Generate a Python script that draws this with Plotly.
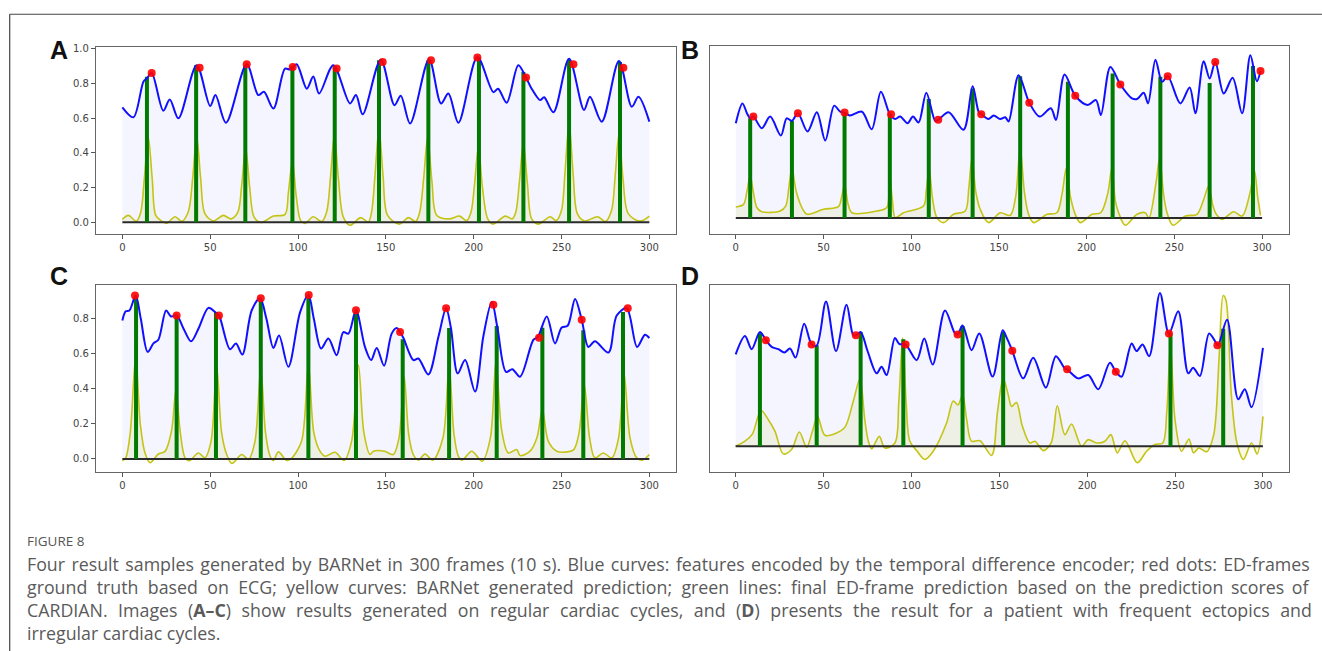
import plotly.graph_objects as go

# ---------------- Panel A ----------------
A_blue_x = [0, 6.3, 12, 14, 16.7, 23.3, 27, 31.9, 42.3, 50, 53, 59, 70.8, 77.4, 80.6, 86, 92.6, 95.5, 99.2,
            105, 108.7, 112, 120.1, 129.6, 133, 136.8, 147.1, 154.9, 158.5, 163.8, 174.6, 181.4, 185.6, 191.3,
            202.1, 211.2, 213.9, 218.8, 225.4, 229.8, 233, 237.8, 240.1, 245.4, 254.3, 262.8, 266.2, 272.9,
            282.7, 290, 293.8, 300]
A_blue_y = [0.662, 0.605, 0.81, 0.83, 0.86, 0.643, 0.708, 0.599, 0.905, 0.67, 0.733, 0.574, 0.91, 0.733, 0.752,
            0.656, 0.885, 0.88, 0.91, 0.77, 0.84, 0.742, 0.905, 0.685, 0.733, 0.622, 0.937, 0.675, 0.729, 0.57,
            0.94, 0.685, 0.742, 0.574, 0.952, 0.75, 0.77, 0.689, 0.905, 0.834, 0.77, 0.704, 0.72, 0.634, 0.942,
            0.647, 0.723, 0.58, 0.929, 0.666, 0.723, 0.58]
A_yel_x = [0, 3.4, 8, 10.5, 12.5, 14.8, 17, 19, 22, 25.3, 30, 33.8, 37.5, 40, 42.3, 44.6, 47, 51.8, 57.5, 62,
           65.8, 68, 70.2, 72.5, 75, 79, 86, 92.6, 94.5, 96.8, 99, 101.5, 104, 108.7, 113.5, 116.3, 118.5, 120.7,
           123, 125.8, 129.6, 135.7, 140, 141.9, 143.9, 146.1, 148.4, 151, 157.7, 162.8, 167, 169.3, 171.5,
           173.8, 176.2, 179, 186, 192, 196, 198.5, 200.5, 202.7, 205, 208, 211, 218, 222, 224, 226, 228.3,
           230.6, 233, 236.8, 243.5, 247, 250, 252, 254.3, 256.6, 259, 263, 270.6, 275, 278.5, 280.5, 282.7,
           285, 288, 294.6, 300]
A_yel_y = [0.017, 0.04, 0.006, 0.06, 0.25, 0.49, 0.25, 0.04, 0.01, -0.005, 0.032, 0.006, 0.06, 0.25, 0.494,
           0.25, 0.05, 0.008, 0.04, 0.02, 0.06, 0.22, 0.428, 0.2, 0.03, 0.0, 0.036, 0.046, 0.17, 0.351, 0.15,
           0.01, -0.006, 0.032, 0.005, 0.06, 0.26, 0.507, 0.25, 0.03, -0.017, 0.027, 0.002, 0.06, 0.28, 0.542,
           0.27, 0.04, -0.01, 0.027, 0.005, 0.06, 0.25, 0.49, 0.24, 0.04, 0.02, 0.036, 0.01, 0.06, 0.22, 0.437,
           0.2, 0.02, -0.01, 0.036, 0.02, 0.06, 0.23, 0.456, 0.22, 0.02, -0.01, 0.032, 0.01, 0.07, 0.29, 0.574,
           0.28, 0.05, 0.008, 0.032, 0.005, 0.07, 0.26, 0.509, 0.25, 0.05, 0.007, 0.036]
A_green_x = [14, 42, 70, 96.8, 120.9, 146.1, 174.2, 203, 228.3, 254.3, 283.3]
A_green_h = [0.838, 0.905, 0.905, 0.9, 0.9, 0.933, 0.933, 0.948, 0.866, 0.937, 0.924]
A_red_x = [16.7, 44, 70.8, 97, 122, 148.2, 175.7, 202.1, 229.8, 256.8, 285.2]
A_red_y = [0.86, 0.89, 0.91, 0.895, 0.886, 0.923, 0.933, 0.95, 0.834, 0.91, 0.89]

# ---------------- Panel B ----------------
B_blue_x = [0, 3.8, 6.5, 8.2, 10, 14.8, 19.6, 25.7, 29, 32, 35.4, 40.9, 46.2, 51, 56.1, 59.5, 62, 65, 71.9,
            77.5, 82.7, 88, 90.9, 93.7, 97.9, 101, 104.2, 108.6, 113.7, 115.4, 121.3, 129.8, 135, 138.4, 139.9,
            144, 147, 150.7, 153.6, 155.5, 161.2, 167.3, 173.2, 179.6, 182.5, 187.4, 193.5, 200.6, 205.3, 208.1,
            213.5, 219.2, 225.8, 228.7, 232.5, 235, 239.2, 243, 246.2, 253.4, 258.7, 262, 266.7, 270.1, 273.3,
            278.1, 283.2, 288.6, 293.3, 297, 299.1]
B_blue_y = [0.546, 0.66, 0.6, 0.574, 0.584, 0.517, 0.584, 0.475, 0.574, 0.559, 0.603, 0.498, 0.609, 0.446,
            0.647, 0.612, 0.607, 0.59, 0.612, 0.511, 0.727, 0.593, 0.57, 0.584, 0.546, 0.584, 0.55, 0.721, 0.559,
            0.565, 0.609, 0.508, 0.759, 0.612, 0.597, 0.57, 0.59, 0.57, 0.58, 0.556, 0.822, 0.664, 0.584, 0.632,
            0.565, 0.826, 0.704, 0.651, 0.679, 0.593, 0.87, 0.769, 0.689, 0.685, 0.721, 0.66, 0.912, 0.784, 0.817,
            0.66, 0.752, 0.603, 0.902, 0.803, 0.899, 0.717, 0.807, 0.603, 0.937, 0.788, 0.847]
B_yel_x = [0, 4.4, 6.3, 8.2, 10, 12, 14.8, 25.3, 28.5, 30.3, 32, 34.5, 38.2, 40.5, 50, 58.5, 60.3, 62, 64, 66.2,
           80.4, 86.1, 87.5, 89.3, 90.9, 95.6, 107, 108.6, 110.2, 112.3, 114.6, 118.4, 124.1, 130.8, 132.8, 134.6,
           136.8, 139.3, 144.1, 150.7, 156.4, 159.5, 162.1, 164.5, 166.9, 169.8, 177.4, 183, 186, 188.4, 190.8,
           193.5, 196.4, 203, 208, 212, 214.4, 216.3, 218.2, 222, 228.7, 233.4, 235.5, 239.5, 241.6, 243.8,
           245.8, 249.2, 256.3, 262.9, 266.5, 269.5, 272, 273.9, 277.2, 283.8, 288.6, 293, 295.6, 297.5, 299.1]
B_yel_y = [0.063, 0.078, 0.15, 0.244, 0.15, 0.06, 0.036, 0.04, 0.07, 0.18, 0.288, 0.15, 0.05, 0.021, 0.05,
           0.065, 0.12, 0.193, 0.08, 0.03, 0.04, 0.06, 0.259, 0.1, 0.002, 0.03, 0.069, 0.16, 0.279, 0.1, 0.002,
           -0.027, 0.021, 0.04, 0.17, 0.345, 0.15, 0.05, -0.027, 0.03, 0.015, 0.12, 0.403, 0.15, 0.021, -0.027,
           0.021, 0.03, 0.14, 0.288, 0.12, 0.021, -0.027, 0.021, 0.03, 0.14, 0.288, 0.1, 0.03, -0.042, 0.021,
           0.03, 0.0, 0.2, 0.345, 0.14, 0.03, -0.042, 0.011, 0.021, 0.1, 0.183, 0.07, 0.021, -0.008, 0.036,
           0.011, 0.14, 0.273, 0.12, 0.015]
B_green_x = [8.2, 32, 62, 87.8, 110, 135, 162.1, 189.3, 214.8, 242, 270.1, 294.8]
B_green_h = [0.574, 0.559, 0.603, 0.599, 0.685, 0.746, 0.817, 0.784, 0.832, 0.813, 0.778, 0.876]
B_red_x = [10, 35.4, 62, 88.5, 115.4, 139.9, 167.3, 193.5, 219.2, 246.2, 273.3, 299.1]
B_red_y = [0.584, 0.603, 0.607, 0.597, 0.565, 0.597, 0.664, 0.704, 0.769, 0.817, 0.899, 0.847]

# ---------------- Panel C ----------------
C_blue_x = [0, 1.9, 4, 7.6, 10.5, 14.4, 17.7, 20.5, 24.9, 27.7, 30.9, 35, 39.1, 43.3, 49, 52.8, 55, 61.3, 64.7,
            68.3, 73.6, 78.4, 82, 86, 89.2, 94.5, 101.2, 105.9, 109, 113.1, 117.3, 122, 125.8, 128.7, 133, 138.1,
            141.6, 144.8, 149, 153.3, 156.2, 158.1, 160, 165.7, 168.5, 174.2, 180, 184.3, 187, 190.9, 195.1,
            200.8, 205.5, 210.3, 213.5, 218.4, 222, 226.4, 234, 236.5, 241.6, 246.3, 250.1, 253.5, 257.7, 261.5,
            265.3, 269, 276.7, 281.4, 287.1, 293, 297.5, 300]
C_blue_y = [0.79, 0.842, 0.847, 0.932, 0.8, 0.611, 0.659, 0.68, 0.847, 0.813, 0.819, 0.74, 0.671, 0.743, 0.862,
            0.838, 0.819, 0.626, 0.659, 0.596, 0.847, 0.917, 0.8, 0.633, 0.705, 0.526, 0.838, 0.936, 0.8, 0.63,
            0.687, 0.592, 0.724, 0.715, 0.848, 0.639, 0.564, 0.633, 0.532, 0.715, 0.747, 0.724, 0.69, 0.564,
            0.573, 0.482, 0.7, 0.86, 0.75, 0.488, 0.564, 0.384, 0.7, 0.895, 0.75, 0.497, 0.512, 0.469, 0.68,
            0.695, 0.813, 0.659, 0.75, 0.76, 0.913, 0.794, 0.639, 0.671, 0.607, 0.818, 0.86, 0.639, 0.709, 0.69]
C_yel_x = [0, 1.9, 4.5, 7.6, 10.2, 12.9, 15.8, 20.5, 24.3, 28, 30.5, 33, 35.7, 38.2, 43.3, 47, 50.5, 53.7, 56.5,
           59.4, 62.3, 68, 71.8, 75.5, 78.8, 81.5, 84.1, 86, 88.8, 93.6, 96, 102, 105.9, 109, 112.5, 115.4, 121.1,
           126.2, 130.5, 134.4, 137.5, 141, 142.9, 149.2, 154.2, 157.5, 160.4, 163, 165.6, 168.5, 172.3, 176.7,
           182.5, 186, 188.8, 191.3, 193.5, 198.9, 204.9, 209.5, 212.7, 216, 219.7, 224.5, 226.4, 232.1, 236,
           239.1, 242.5, 247.3, 253.2, 257, 260, 263, 266, 269, 273.8, 278.6, 282.5, 285.6, 289, 292.8, 296, 300]
C_yel_y = [-0.01, 0.005, 0.15, 0.586, 0.2, 0.034, -0.022, 0.028, 0.043, 0.16, 0.39, 0.15, 0.006, -0.01, 0.034,
           0.006, 0.1, 0.529, 0.15, 0.025, -0.026, 0.025, -0.003, 0.1, 0.516, 0.15, 0.015, -0.01, 0.04, -0.009,
           0.0, 0.1, 0.539, 0.15, 0.044, 0.015, 0.038, -0.009, 0.1, 0.535, 0.15, 0.025, 0.044, 0.044, 0.025,
           0.12, 0.472, 0.14, 0.025, -0.007, 0.028, -0.007, 0.12, 0.529, 0.14, 0.015, -0.007, 0.044, -0.013,
           0.12, 0.558, 0.16, 0.034, 0.053, 0.019, 0.044, 0.12, 0.28, 0.1, 0.044, 0.04, 0.053, 0.15, 0.421, 0.12,
           0.006, 0.034, 0.006, 0.12, 0.488, 0.12, 0.006, -0.007, 0.025]
C_green_x = [7.8, 30.9, 53.3, 78.8, 105.9, 133, 159.6, 186, 213.1, 239.1, 262.4, 285]
C_green_h = [0.923, 0.81, 0.838, 0.904, 0.923, 0.838, 0.683, 0.747, 0.758, 0.749, 0.734, 0.838]
C_red_x = [7.2, 30.9, 55, 78.8, 106.1, 133, 158.1, 184.3, 211.2, 237.2, 261.5, 287.7]
C_red_y = [0.932, 0.819, 0.819, 0.917, 0.936, 0.848, 0.724, 0.86, 0.88, 0.692, 0.794, 0.86]

# ---------------- Panel D ----------------
D_blue_x = [0, 5.3, 9.1, 13.8, 17.2, 20.5, 24.3, 27.7, 30.9, 34.1, 39, 43.2, 46.1, 51.4, 57.1, 63.1, 66.9, 68.4,
            71.1, 75, 80.2, 83, 85.9, 90.6, 93, 96.7, 103, 107.3, 112.1, 119.1, 124.8, 126.3, 129.1, 134.2, 138.6,
            146.2, 151.9, 154, 157.4, 163.6, 169.3, 176.5, 182.2, 187.3, 188.6, 194.9, 200.6, 206.3, 212.9, 216.3,
            219.6, 225.3, 228.1, 231.5, 235.3, 241.4, 246.5, 251.8, 257.5, 260.3, 264.1, 269.4, 273.6, 274.5,
            279.6, 285.9, 289.7, 293.5, 300]
D_blue_y = [0.529, 0.635, 0.559, 0.658, 0.611, 0.572, 0.559, 0.54, 0.563, 0.511, 0.706, 0.588, 0.58, 0.834,
            0.548, 0.815, 0.639, 0.639, 0.658, 0.55, 0.42, 0.458, 0.41, 0.624, 0.59, 0.585, 0.496, 0.62, 0.471,
            0.782, 0.649, 0.643, 0.696, 0.553, 0.649, 0.401, 0.668, 0.63, 0.55, 0.391, 0.509, 0.338, 0.519, 0.448,
            0.443, 0.391, 0.41, 0.328, 0.481, 0.429, 0.401, 0.592, 0.548, 0.586, 0.519, 0.883, 0.649, 0.777, 0.42,
            0.452, 0.405, 0.649, 0.59, 0.58, 0.729, 0.271, 0.328, 0.225, 0.567]
D_yel_x = [0, 5.3, 9.5, 14.4, 18.6, 22.4, 27.1, 31.8, 36.2, 40.4, 43.5, 46.6, 50.8, 57.4, 62.2, 66.9, 70.7, 73.5,
           75.5, 77.4, 81.7, 84.9, 90.6, 92.8, 95, 97, 99.1, 103, 107.7, 112.4, 120, 123.8, 126.5, 129.1, 131.5,
           134.2, 139, 145.6, 149, 152.2, 155, 157, 159.8, 163, 167.4, 170.3, 175, 179.5, 183, 187.3, 191.1,
           196.8, 200.6, 205.4, 210.1, 213.5, 217.1, 221.5, 228.5, 233.8, 238.5, 243, 245.3, 247.4, 250, 253.7,
           257.9, 260.5, 263.5, 268, 272, 275, 277.4, 279, 282, 285.2, 288.9, 293.5, 296.7, 300]
D_yel_y = [0.0, 0.029, 0.07, 0.206, 0.153, 0.086, -0.044, -0.019, 0.082, -0.006, 0.08, 0.172, 0.063, 0.076,
           0.11, 0.258, 0.387, 0.15, 0.029, -0.015, 0.057, -0.01, 0.019, 0.25, 0.624, 0.25, 0.029, -0.025,
           -0.076, -0.029, 0.134, 0.261, 0.238, 0.296, 0.15, 0.029, 0.032, -0.053, 0.2, 0.391, 0.3, 0.229, 0.252,
           0.12, 0.019, 0.029, -0.025, 0.019, 0.233, 0.067, 0.128, 0.0, 0.038, 0.019, 0.029, 0.067, -0.038,
           0.032, -0.095, -0.029, 0.01, 0.019, 0.2, 0.582, 0.15, -0.029, 0.042, -0.038, -0.01, -0.032, 0.067,
           0.5, 0.868, 0.84, 0.3, 0.019, -0.076, 0.019, -0.044, 0.172]
D_green_x = [13.8, 46.1, 71.1, 95.4, 129.1, 152.2, 247.4, 277.4]
D_green_h = [0.653, 0.582, 0.658, 0.616, 0.693, 0.658, 0.649, 0.677]
D_red_x = [17.2, 43.2, 68.4, 96.7, 126.3, 157.4, 188.6, 216.3, 246.5, 274.1]
D_red_y = [0.611, 0.586, 0.639, 0.586, 0.643, 0.55, 0.443, 0.429, 0.649, 0.582]

frame_ticks = [0, 50, 100, 150, 200, 250, 300]
baseline_x = [0, 300]
panel_letters = ["A", "B", "C", "D"]

caption_title = "FIGURE 8"
caption_lines = [
    "Four result samples generated by BARNet in 300 frames (10 s). Blue curves: features encoded by the temporal difference encoder; red dots: ED-frames",
    "ground truth based on ECG; yellow curves: BARNet generated prediction; green lines: final ED-frame prediction based on the prediction scores of",
    "CARDIAN. Images (<b>A\u2013C</b>) show results generated on regular cardiac cycles, and (<b>D</b>) presents the result for a patient with frequent ectopics and",
    "irregular cardiac cycles.",
]
# extra spacing inserted after word gaps to imitate the justified paragraph:
# (wide extra, narrow extra, number of gaps that take the wide extra)
caption_gap_extra = [("\u200a", "\u200a", 0), ("\u2009\u200a", "\u2009", 15), ("\u2009\u2009", "\u2009\u2009", 0), ("", "", 0)]

panels = [
    dict(bx=A_blue_x, by=A_blue_y, yx=A_yel_x, yy=A_yel_y, gx=A_green_x, gh=A_green_h, rx=A_red_x, ry=A_red_y),
    dict(bx=B_blue_x, by=B_blue_y, yx=B_yel_x, yy=B_yel_y, gx=B_green_x, gh=B_green_h, rx=B_red_x, ry=B_red_y),
    dict(bx=C_blue_x, by=C_blue_y, yx=C_yel_x, yy=C_yel_y, gx=C_green_x, gh=C_green_h, rx=C_red_x, ry=C_red_y),
    dict(bx=D_blue_x, by=D_blue_y, yx=D_yel_x, yy=D_yel_y, gx=D_green_x, gh=D_green_h, rx=D_red_x, ry=D_red_y),
]

W, H = 1322, 651
def px(v):
    return v / W
def py(v):
    return 1 - v / H

# plot-area boxes (left, top, right, bottom) in pixels
boxes = [(96, 43.3, 675.7, 231.7), (710, 42.7, 1289.3, 231.7), (96, 282.3, 675.7, 471), (710, 282.7, 1289.3, 471)]
xranges = [[-15, 315], [-14.7, 315.5], [-15, 315], [-14.6, 315]]
yranges = [[-0.0687, 1.0097], [-0.094, 0.988], [-0.0755, 0.995], [-0.149, 0.929]]
ytickvals = [[0, 0.2, 0.4, 0.6, 0.8, 1.0], [], [0, 0.2, 0.4, 0.6, 0.8], []]
letter_pos = [(59, 46.5), (690, 46.5), (59, 274), (690, 274)]

fig = go.Figure()
for i, p in enumerate(panels):
    xa = "x" if i == 0 else f"x{i+1}"
    ya = "y" if i == 0 else f"y{i+1}"
    common = dict(xaxis=xa, yaxis=ya, hoverinfo="skip", showlegend=False)
    fig.add_trace(go.Scatter(x=p["bx"], y=p["by"], mode="lines", fill="tozeroy",
                             fillcolor="rgba(40,60,255,0.05)",
                             line=dict(color="rgba(0,0,0,0)", shape="spline", smoothing=0.9, width=0), **common))
    fig.add_trace(go.Scatter(x=p["yx"], y=p["yy"], mode="lines", fill="tozeroy",
                             fillcolor="rgba(190,190,0,0.10)",
                             line=dict(color="#c4c416", shape="spline", smoothing=0.9, width=1.6), **common))
    fig.add_trace(go.Scatter(x=baseline_x, y=[0, 0], mode="lines",
                             line=dict(color="#2a2a2a", width=2), **common))
    gx, gy = [], []
    for x, h in zip(p["gx"], p["gh"]):
        gx += [x, x, None]
        gy += [0, h, None]
    fig.add_trace(go.Scatter(x=gx, y=gy, mode="lines", line=dict(color="#007a00", width=4), **common))
    fig.add_trace(go.Scatter(x=p["bx"], y=p["by"], mode="lines",
                             line=dict(color="#1010ff", shape="spline", smoothing=0.9, width=2), **common))
    fig.add_trace(go.Scatter(x=p["rx"], y=p["ry"], mode="markers",
                             marker=dict(color="rgba(255,0,0,0.9)", size=8), **common))

    l, t, r, b = boxes[i]
    axis_common = dict(showline=True, linecolor="#666", linewidth=1.2, mirror=True, showgrid=False,
                       zeroline=False, tickfont=dict(family="DejaVu Sans", size=10, color="#444"),
                       ticks="outside", ticklen=4, tickcolor="#555", tickwidth=1)
    fig.layout[("xaxis" if i == 0 else f"xaxis{i+1}")] = dict(
        domain=[px(l), px(r)], range=xranges[i], anchor=ya, tickvals=frame_ticks, **axis_common)
    yax = dict(domain=[py(b), py(t)], range=yranges[i], anchor=xa, tickvals=ytickvals[i],
               tickformat=".1f", **axis_common)
    if not ytickvals[i]:
        yax["ticks"] = ""
        yax["showticklabels"] = False
    fig.layout[("yaxis" if i == 0 else f"yaxis{i+1}")] = yax

annotations = []
for letter, (lx, ly) in zip(panel_letters, letter_pos):
    annotations.append(dict(text=f"<b>{letter}</b>", x=px(lx), y=py(ly), xref="paper", yref="paper",
                            xanchor="center", yanchor="middle", showarrow=False,
                            font=dict(family="Liberation Sans", size=25, color="#111")))
annotations.append(dict(text=caption_title, x=px(25), y=py(540), xref="paper", yref="paper",
                        xanchor="left", yanchor="middle", showarrow=False,
                        font=dict(family="Open Sans", size=13.5, color="#555")))

def spaced(line, wide, narrow, n_wide):
    words = line.split(" ")
    out = words[0]
    for j, w in enumerate(words[1:]):
        out += " " + (wide if j < n_wide else narrow) + w
    return out

caption_text = "<br>".join(spaced(line, *caption_gap_extra[k]) for k, line in enumerate(caption_lines))
annotations.append(dict(text=caption_text, x=px(25), y=py(598.5), xref="paper", yref="paper",
                        xanchor="left", yanchor="middle", align="left", showarrow=False,
                        font=dict(family="Open Sans", size=17.8, color="#5a5a5a")))

shapes = [
    dict(type="line", xref="paper", yref="paper", x0=px(9.7), x1=1, y0=py(10.3), y1=py(10.3),
         line=dict(color="#444", width=1.2)),
    dict(type="line", xref="paper", yref="paper", x0=px(9.7), x1=px(9.7), y0=py(10.3), y1=0,
         line=dict(color="#444", width=1.2)),
]

fig.update_layout(width=W, height=H, margin=dict(l=0, r=0, t=0, b=0), plot_bgcolor="white",
                  paper_bgcolor="white", annotations=annotations, shapes=shapes)
fig.write_html("out.html", post_script="document.body.style.margin='0px';",
               config={"displayModeBar": False})
